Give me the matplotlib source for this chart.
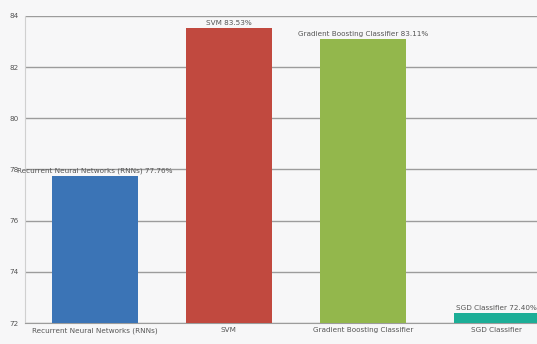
import matplotlib.pyplot as plt

categories = ["Recurrent Neural Networks (RNNs)", "SVM",
              "Gradient Boosting Classifier", "SGD Classifier"]
accuracy = [77.76, 83.53, 83.11, 72.40]
colors = ["#3b74b6", "#c1493f", "#93b74c", "#1cae97"]
yticks = [72, 74, 76, 78, 80, 82, 84]

plt.rcParams['font.family'] = ['Liberation Sans Narrow', 'DejaVu Sans']

fig = plt.figure(figsize=(5.37, 3.44), dpi=100)
fig.patch.set_facecolor("#f7f7f8")
ax = fig.add_axes([0.047, 0.061, 0.953, 0.893])
ax.set_facecolor("#f7f7f8")

x = range(len(categories))
ax.bar(x, [a - 72 for a in accuracy], bottom=72, width=0.64,
       color=colors, zorder=3)

# value label centred above each bar
for i, (name, acc) in enumerate(zip(categories, accuracy)):
    ax.text(i, acc + 0.08, f"{name} {acc:.2f}%", ha="center", va="bottom",
            fontsize=5.2, color="#555555", zorder=4)

ax.set_ylim(72, 84)
ax.set_xlim(-0.52, 3.3)
ax.set_yticks(yticks)
ax.set_yticklabels([str(t) for t in yticks], fontsize=5.2, color="#555555")
ax.set_xticks(list(x))
ax.set_xticklabels(categories, fontsize=5.2, color="#555555")
ax.tick_params(axis="y", length=0, pad=5)
ax.tick_params(axis="x", length=0, pad=3)
ax.yaxis.grid(True, color="#9c9c9c", linewidth=1.0, zorder=0)

for side in ["top", "right"]:
    ax.spines[side].set_visible(False)
ax.spines["left"].set_color("#d0d0d0")
ax.spines["bottom"].set_color("#9c9c9c")

fig.savefig("out.png", dpi=100, facecolor=fig.get_facecolor())
